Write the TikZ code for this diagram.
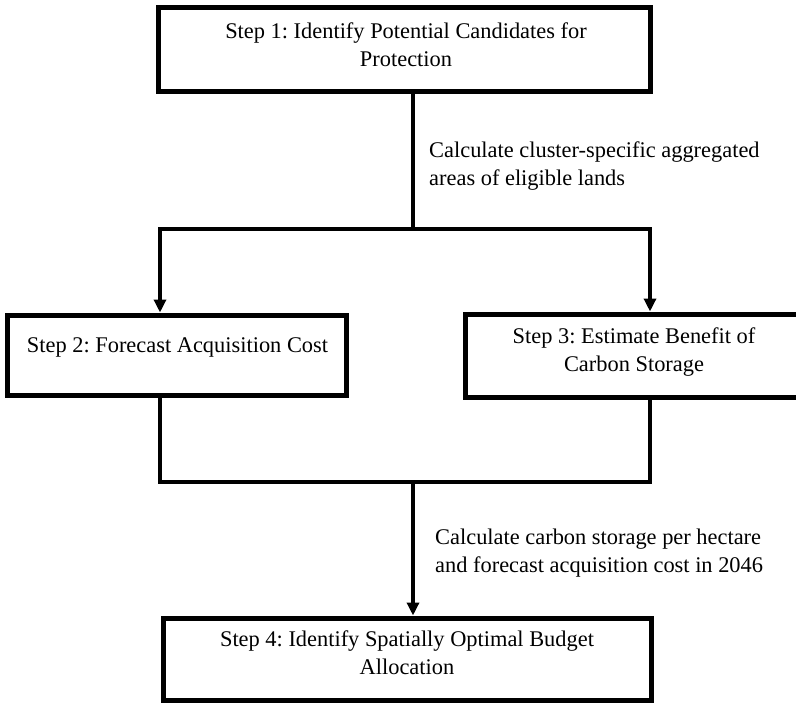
\documentclass[tikz,border=0pt]{standalone}
\usepackage{fontspec}
\setmainfont{Liberation Serif}
\usetikzlibrary{arrows.meta}
\frenchspacing

\begin{document}
\begin{tikzpicture}[x=1bp,y=-1bp,
  stepbox/.style={draw,line width=5bp,inner sep=0pt},
  steptext/.style={anchor=north,inner sep=0pt,align=center,font=\fontsize{22.4bp}{28bp}\selectfont},
  note/.style={anchor=north west,inner sep=0pt,align=left,font=\fontsize{22.4bp}{28bp}\selectfont},
  flow/.style={line width=4.5bp},
  arrowflow/.style={-{Triangle[width=12bp,length=13bp]}}]
\path[use as bounding box] (0,0) rectangle (796,704);
\fill[white] (0,0) rectangle (796,704);
% boxes
\node[stepbox,minimum width=491bp,minimum height=84bp] (s1) at (404.5,50) {};
\node[stepbox,minimum width=338bp,minimum height=80bp] (s2) at (177,355) {};
\node[stepbox,minimum width=335bp,minimum height=83bp] (s3) at (632.5,355.5) {};
\node[stepbox,minimum width=487bp,minimum height=82bp] (s4) at (407.5,659) {};
% box texts
\node[steptext] (t1) at (406,22.7) {Step 1: Identify Potential Candidates for\\Protection};
\node[steptext] (t2) at (177.5,337.7) {Step 2: Forecast Acquisition Cost};
\node[steptext] (t3) at (634,327.7) {Step 3: Estimate Benefit of\\Carbon Storage};
\node[steptext] (t4) at (407,630.7) {Step 4: Identify Spatially Optimal Budget\\Allocation};
% connector notes
\node[note] (n1) at (429,141.7) {Calculate cluster-specific aggregated\\areas of eligible lands};
\node[note] (n2) at (435,528.7) {Calculate carbon storage per hectare\\and forecast acquisition cost in 2046};
% connectors
\coordinate (split) at (413,229);
\coordinate (armL) at (160,229);
\coordinate (armR) at (650,229);
\coordinate (join) at (413,482);
\coordinate (baseL) at (160,482);
\coordinate (baseR) at (650,482);
\draw[flow] (s1.south -| split) -- (split);
\draw[flow,arrowflow] (split) -- (armL) -- (armL |- s2.north);
\draw[flow,arrowflow] (split) -- (armR) -- (armR |- s3.north);
\draw[flow] (baseL |- s2.south) -- (baseL) -- (baseR) -- (baseR |- s3.south);
\draw[flow,arrowflow] (join) -- (join |- s4.north);
\end{tikzpicture}
\end{document}
